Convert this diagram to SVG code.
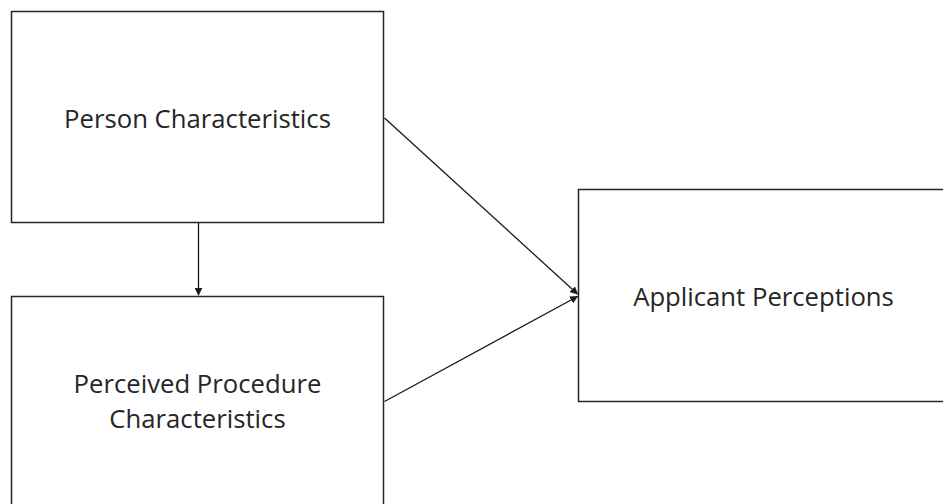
<svg xmlns="http://www.w3.org/2000/svg" width="943" height="504" viewBox="0 0 943 504">
<defs>
<style>
.box{fill:#fff;stroke:#262626;stroke-width:1.5}
.lbl{font-family:"Open Sans","Liberation Sans",sans-serif;font-size:25.7px;fill:#262626;text-anchor:middle}
.con{stroke:#1a1a1a;stroke-width:1.3;fill:none;marker-end:url(#ah)}
</style>
<marker id="ah" viewBox="0 0 10 10" refX="9" refY="5" markerWidth="8" markerHeight="8" markerUnits="userSpaceOnUse" orient="auto">
<path d="M0,0 L10,5 L0,10 Z" fill="#1a1a1a"/>
</marker>
</defs>
<rect width="943" height="504" fill="#fff"/>
<g id="person">
<rect class="box" x="11.5" y="11.5" width="372" height="211"/>
<text class="lbl" x="197.5" y="128">Person Characteristics</text>
</g>
<g id="procedure">
<rect class="box" x="11.5" y="296.5" width="372" height="220"/>
<text class="lbl" x="197.5" y="392.5">Perceived Procedure</text>
<text class="lbl" x="197.5" y="428">Characteristics</text>
</g>
<g id="applicant">
<rect class="box" x="578.5" y="189.5" width="380" height="212"/>
<text class="lbl" x="763.5" y="306">Applicant Perceptions</text>
</g>
<g id="connectors">
<line class="con" x1="198.5" y1="223" x2="198.5" y2="295"/>
<line class="con" x1="384.5" y1="118" x2="577.5" y2="294"/>
<line class="con" x1="384.5" y1="401.5" x2="577.5" y2="296.5"/>
</g>
</svg>
